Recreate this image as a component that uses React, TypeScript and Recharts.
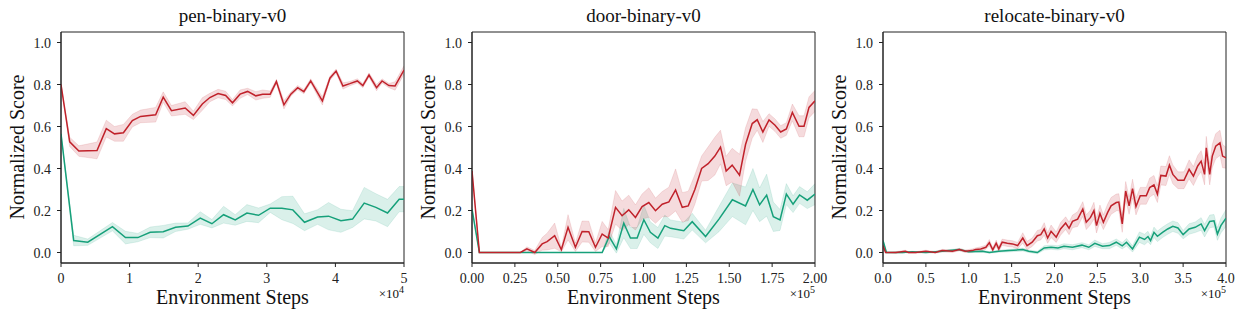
import React from 'react';
import {
  ComposedChart,
  Line,
  Area,
  XAxis,
  YAxis,
  ReferenceArea,
} from 'recharts';

const RED = '#c0222b';
const GREEN = '#16a07a';
const FONT = '"Liberation Serif", "DejaVu Serif", serif';

// pen-binary-v0 (steps in units of 1e4)
const penRedSteps = [0, 0.127, 0.26, 0.525, 0.66, 0.78, 0.91, 1.04, 1.16, 1.38, 1.49, 1.61, 1.81, 1.93, 2.06, 2.17, 2.29, 2.4, 2.5, 2.61, 2.72, 2.84, 2.94, 3.05, 3.14, 3.25, 3.35, 3.45, 3.54, 3.64, 3.81, 3.92, 4.01, 4.11, 4.21, 4.32, 4.4, 4.49, 4.6, 4.68, 4.78, 4.87, 5.0];
const penRedMean = [0.8, 0.527, 0.483, 0.486, 0.59, 0.565, 0.57, 0.628, 0.648, 0.656, 0.74, 0.675, 0.688, 0.653, 0.707, 0.738, 0.757, 0.748, 0.713, 0.754, 0.767, 0.746, 0.754, 0.754, 0.814, 0.703, 0.754, 0.785, 0.766, 0.817, 0.722, 0.83, 0.864, 0.793, 0.804, 0.817, 0.795, 0.845, 0.785, 0.817, 0.795, 0.793, 0.869];
const penRedSpread = [0, 0.022, 0.025, 0.04, 0.04, 0.035, 0.04, 0.03, 0.03, 0.035, 0.025, 0.025, 0.03, 0.02, 0.03, 0.02, 0.02, 0.02, 0.015, 0.02, 0.015, 0.02, 0.02, 0.015, 0.01, 0.02, 0.01, 0.01, 0.01, 0.01, 0.02, 0.01, 0.01, 0.015, 0.01, 0.01, 0.01, 0.01, 0.015, 0.01, 0.01, 0.02, 0.02];
const penGreenSteps = [0, 0.185, 0.39, 0.75, 0.94, 1.12, 1.3, 1.49, 1.67, 1.85, 2.03, 2.2, 2.37, 2.54, 2.71, 2.88, 3.05, 3.22, 3.38, 3.55, 3.74, 3.9, 4.08, 4.25, 4.42, 4.59, 4.76, 4.93, 5.0];
const penGreenMean = [0.565, 0.057, 0.049, 0.123, 0.071, 0.071, 0.096, 0.099, 0.12, 0.126, 0.164, 0.137, 0.18, 0.155, 0.188, 0.177, 0.211, 0.211, 0.203, 0.144, 0.169, 0.173, 0.151, 0.159, 0.235, 0.215, 0.188, 0.254, 0.254];
const penGreenSpread = [0, 0.025, 0.015, 0.02, 0.03, 0.02, 0.025, 0.03, 0.02, 0.015, 0.03, 0.02, 0.04, 0.025, 0.04, 0.035, 0.02, 0.055, 0.065, 0.04, 0.035, 0.065, 0.055, 0.04, 0.075, 0.065, 0.065, 0.06, 0.06];

// door-binary-v0 (steps in units of 1e5)
const doorRedSteps = [0, 0.043, 0.282, 0.32, 0.366, 0.409, 0.438, 0.482, 0.521, 0.56, 0.603, 0.642, 0.681, 0.72, 0.759, 0.794, 0.837, 0.875, 0.914, 0.953, 0.992, 1.031, 1.07, 1.109, 1.148, 1.187, 1.226, 1.261, 1.3, 1.339, 1.377, 1.416, 1.449, 1.482, 1.517, 1.56, 1.595, 1.634, 1.663, 1.696, 1.732, 1.767, 1.8, 1.833, 1.868, 1.907, 1.936, 1.965, 2.0];
const doorRedMean = [0.388, 0, 0, 0.017, 0, 0.041, 0.052, 0.08, 0.013, 0.12, 0.025, 0.1, 0.099, 0.025, 0.088, 0.069, 0.215, 0.175, 0.203, 0.167, 0.219, 0.238, 0.199, 0.23, 0.241, 0.298, 0.215, 0.222, 0.301, 0.4, 0.423, 0.459, 0.502, 0.388, 0.416, 0.368, 0.514, 0.614, 0.632, 0.574, 0.631, 0.606, 0.574, 0.588, 0.667, 0.601, 0.601, 0.691, 0.722];
const doorRedSpread = [0, 0, 0, 0.01, 0.01, 0.03, 0.04, 0.06, 0.01, 0.06, 0.02, 0.05, 0.05, 0.02, 0.06, 0.04, 0.08, 0.07, 0.07, 0.06, 0.06, 0.07, 0.06, 0.06, 0.07, 0.1, 0.07, 0.07, 0.07, 0.06, 0.08, 0.09, 0.08, 0.07, 0.08, 0.1, 0.08, 0.07, 0.05, 0.05, 0.03, 0.03, 0.03, 0.03, 0.04, 0.05, 0.05, 0.05, 0.05];
const doorGreenSteps = [0, 0.043, 0.759, 0.8, 0.842, 0.885, 0.924, 0.963, 1.002, 1.04, 1.084, 1.124, 1.158, 1.235, 1.284, 1.362, 1.44, 1.518, 1.595, 1.638, 1.677, 1.718, 1.757, 1.796, 1.833, 1.872, 1.91, 1.955, 2.0];
const doorGreenMean = [0.207, 0, 0, 0.076, 0.017, 0.14, 0.069, 0.069, 0.156, 0.096, 0.069, 0.128, 0.115, 0.104, 0.147, 0.076, 0.159, 0.251, 0.222, 0.3, 0.227, 0.273, 0.17, 0.155, 0.278, 0.23, 0.274, 0.249, 0.278];
const doorGreenSpread = [0, 0, 0, 0.03, 0.02, 0.07, 0.05, 0.05, 0.07, 0.05, 0.05, 0.05, 0.04, 0.04, 0.04, 0.03, 0.06, 0.08, 0.09, 0.1, 0.08, 0.1, 0.07, 0.05, 0.05, 0.04, 0.04, 0.04, 0.05];

// relocate-binary-v0 (steps in units of 1e5)
const relRedSteps = [0, 0.03, 0.15, 0.26, 0.3, 0.38, 0.5, 0.61, 0.69, 0.81, 0.89, 0.96, 1.04, 1.08, 1.14, 1.2, 1.24, 1.28, 1.32, 1.35, 1.39, 1.45, 1.51, 1.57, 1.63, 1.68, 1.74, 1.8, 1.84, 1.88, 1.92, 1.96, 2.02, 2.07, 2.13, 2.17, 2.21, 2.27, 2.33, 2.37, 2.42, 2.46, 2.49, 2.53, 2.57, 2.62, 2.66, 2.72, 2.75, 2.79, 2.83, 2.87, 2.91, 2.95, 3.0, 3.07, 3.11, 3.16, 3.2, 3.24, 3.3, 3.34, 3.38, 3.44, 3.51, 3.57, 3.62, 3.67, 3.71, 3.75, 3.77, 3.81, 3.84, 3.88, 3.93, 3.96, 4.0];
const relRedMean = [0.033, 0, 0, 0.006, 0, 0, 0.006, 0, 0.009, 0.006, 0.014, 0.006, 0.009, 0.014, 0.017, 0.025, 0.047, 0.013, 0.044, 0.017, 0.049, 0.044, 0.041, 0.033, 0.069, 0.033, 0.049, 0.08, 0.085, 0.112, 0.069, 0.101, 0.073, 0.112, 0.14, 0.115, 0.148, 0.159, 0.207, 0.144, 0.167, 0.199, 0.128, 0.186, 0.144, 0.191, 0.222, 0.238, 0.24, 0.136, 0.293, 0.222, 0.304, 0.219, 0.27, 0.27, 0.309, 0.322, 0.278, 0.367, 0.364, 0.416, 0.372, 0.344, 0.344, 0.396, 0.364, 0.412, 0.435, 0.372, 0.498, 0.372, 0.459, 0.506, 0.522, 0.459, 0.451];
const relRedSpread = [0, 0, 0.004, 0.005, 0.004, 0.004, 0.005, 0.004, 0.006, 0.006, 0.006, 0.006, 0.008, 0.008, 0.01, 0.01, 0.015, 0.01, 0.015, 0.012, 0.015, 0.015, 0.015, 0.015, 0.025, 0.02, 0.02, 0.025, 0.025, 0.03, 0.025, 0.03, 0.025, 0.03, 0.03, 0.03, 0.03, 0.035, 0.035, 0.035, 0.035, 0.04, 0.035, 0.04, 0.035, 0.04, 0.04, 0.04, 0.04, 0.04, 0.045, 0.04, 0.045, 0.04, 0.04, 0.04, 0.045, 0.045, 0.04, 0.045, 0.045, 0.045, 0.045, 0.04, 0.04, 0.045, 0.045, 0.05, 0.05, 0.05, 0.055, 0.05, 0.055, 0.06, 0.06, 0.055, 0.05];
const relGreenSteps = [0, 0.04, 0.23, 0.34, 0.5, 0.69, 0.89, 1.0, 1.16, 1.24, 1.35, 1.47, 1.63, 1.7, 1.8, 1.88, 1.96, 2.04, 2.11, 2.21, 2.32, 2.4, 2.47, 2.56, 2.64, 2.72, 2.79, 2.84, 2.91, 2.99, 3.05, 3.09, 3.12, 3.16, 3.2, 3.26, 3.32, 3.38, 3.44, 3.5, 3.57, 3.64, 3.71, 3.75, 3.81, 3.86, 3.9, 3.94, 4.0];
const relGreenMean = [0.057, 0, 0, 0.003, 0, 0.006, 0.014, 0.003, 0.006, 0, 0.006, 0.009, 0.014, 0.006, 0, 0.022, 0.025, 0.022, 0.03, 0.025, 0.035, 0.025, 0.044, 0.03, 0.033, 0.049, 0.032, 0.049, 0.017, 0.073, 0.062, 0.076, 0.057, 0.096, 0.077, 0.096, 0.112, 0.125, 0.117, 0.085, 0.112, 0.12, 0.136, 0.104, 0.148, 0.151, 0.088, 0.128, 0.164];
const relGreenSpread = [0, 0, 0.003, 0.003, 0.003, 0.004, 0.005, 0.004, 0.005, 0.004, 0.005, 0.006, 0.007, 0.006, 0.006, 0.01, 0.01, 0.01, 0.012, 0.012, 0.012, 0.012, 0.015, 0.012, 0.015, 0.015, 0.015, 0.018, 0.015, 0.025, 0.025, 0.025, 0.02, 0.025, 0.025, 0.025, 0.025, 0.025, 0.025, 0.02, 0.025, 0.025, 0.03, 0.03, 0.03, 0.03, 0.03, 0.035, 0.04];

const yTicks = [0, 0.2, 0.4, 0.6, 0.8, 1.0];

type Row = { x: number; y: number; band: [number, number] };

function makeRows(steps: number[], mean: number[], spread: number[]): Row[] {
  return steps.map((x, i) => ({
    x,
    y: mean[i],
    band: [mean[i] - spread[i], mean[i] + spread[i]],
  }));
}

interface PanelProps {
  title: string;
  xMax: number;
  xTicks: number[];
  digits: number;
  exponent: number;
  red: Row[];
  green: Row[];
  left: number;
}

const W = 411;
const EXTRA = 16; // room to the right for the last tick label
const H = 319;
const PLOT_BOTTOM = 263;
const PLOT_LEFT = 61;

function Panel({ title, xMax, xTicks, digits, exponent, red, green, left }: PanelProps) {
  // eslint-disable-next-line @typescript-eslint/no-explicit-any
  const XTick = ({ x, payload }: any) => (
    <text x={x} y={PLOT_BOTTOM + 20} textAnchor="middle" fontFamily={FONT} fontSize={14} fill="#222">
      {Number(payload.value).toFixed(digits)}
    </text>
  );
  // eslint-disable-next-line @typescript-eslint/no-explicit-any
  const YTick = ({ y, payload }: any) => (
    <text x={PLOT_LEFT - 10} y={y + 5} textAnchor="end" fontFamily={FONT} fontSize={14} fill="#222">
      {Number(payload.value).toFixed(1)}
    </text>
  );
  return (
    <div style={{ position: 'absolute', left, top: 0, width: W + EXTRA, height: H }}>
      <ComposedChart width={W + EXTRA} height={H} margin={{ top: 32, right: 7 + EXTRA, bottom: 0, left: 0 }}>
        <XAxis
          type="number"
          dataKey="x"
          domain={[0, xMax]}
          ticks={xTicks}
          tick={<XTick />}
          tickSize={4}
          tickLine={{ stroke: '#222' }}
          axisLine={{ stroke: '#222' }}
          height={H - PLOT_BOTTOM}
          allowDataOverflow
        />
        <YAxis
          type="number"
          domain={[-0.05, 1.05]}
          ticks={yTicks}
          tick={<YTick />}
          tickSize={4}
          tickLine={{ stroke: '#222' }}
          axisLine={{ stroke: '#222' }}
          width={PLOT_LEFT}
          allowDataOverflow
        />
        <Area data={green} dataKey="band" type="linear" fill={GREEN} fillOpacity={0.16} stroke={GREEN} strokeOpacity={0.12} isAnimationActive={false} />
        <Area data={red} dataKey="band" type="linear" fill={RED} fillOpacity={0.16} stroke={RED} strokeOpacity={0.12} isAnimationActive={false} />
        <Line data={green} dataKey="y" type="linear" stroke={GREEN} strokeWidth={1.5} dot={false} isAnimationActive={false} />
        <Line data={red} dataKey="y" type="linear" stroke={RED} strokeWidth={1.5} dot={false} isAnimationActive={false} />
        <ReferenceArea x1={0} x2={xMax} y1={-0.05} y2={1.05} fill="none" stroke="#222" strokeWidth={1} />
      </ComposedChart>
      <div style={{ position: 'absolute', left: PLOT_LEFT, width: W - 68, top: 5, textAlign: 'center', fontFamily: FONT, fontSize: 19, color: '#111' }}>
        {title}
      </div>
      <div style={{ position: 'absolute', left: PLOT_LEFT, width: W - 68, top: 286, textAlign: 'center', fontFamily: FONT, fontSize: 20, color: '#111' }}>
        Environment Steps
      </div>
      <div style={{ position: 'absolute', right: 7 + EXTRA, top: 284, fontFamily: FONT, fontSize: 13, color: '#111' }}>
        ×10<sup style={{ fontSize: 10 }}>{exponent}</sup>
      </div>
      <div
        style={{
          position: 'absolute',
          left: 17,
          top: 147,
          transform: 'translate(-50%, -50%) rotate(-90deg)',
          whiteSpace: 'nowrap',
          fontFamily: FONT,
          fontSize: 20,
          color: '#111',
        }}
      >
        Normalized Score
      </div>
    </div>
  );
}

export default function App() {
  return (
    <div style={{ position: 'absolute', left: 0, top: 0, width: 1245, height: 319, background: '#fff' }}>
      <Panel
        title="pen-binary-v0"
        xMax={5}
        xTicks={[0, 1, 2, 3, 4, 5]}
        digits={0}
        exponent={4}
        red={makeRows(penRedSteps, penRedMean, penRedSpread)}
        green={makeRows(penGreenSteps, penGreenMean, penGreenSpread)}
        left={0}
      />
      <Panel
        title="door-binary-v0"
        xMax={2}
        xTicks={[0, 0.25, 0.5, 0.75, 1, 1.25, 1.5, 1.75, 2]}
        digits={2}
        exponent={5}
        red={makeRows(doorRedSteps, doorRedMean, doorRedSpread)}
        green={makeRows(doorGreenSteps, doorGreenMean, doorGreenSpread)}
        left={411}
      />
      <Panel
        title="relocate-binary-v0"
        xMax={4}
        xTicks={[0, 0.5, 1, 1.5, 2, 2.5, 3, 3.5, 4]}
        digits={1}
        exponent={5}
        red={makeRows(relRedSteps, relRedMean, relRedSpread)}
        green={makeRows(relGreenSteps, relGreenMean, relGreenSpread)}
        left={822}
      />
    </div>
  );
}
